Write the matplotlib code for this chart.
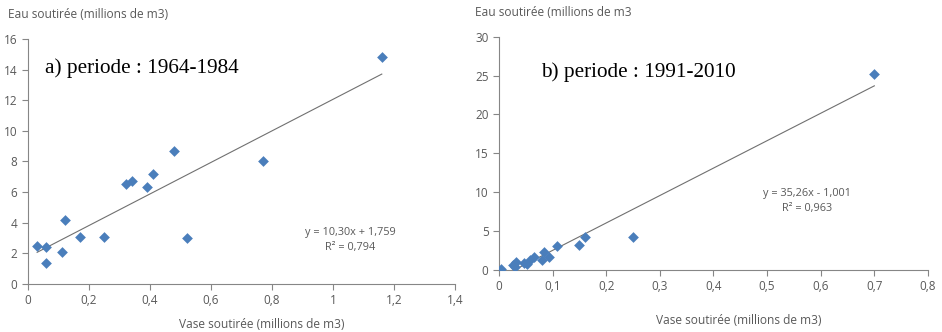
import matplotlib
matplotlib.use('Agg')
import matplotlib.pyplot as plt
import numpy as np
from matplotlib.ticker import FuncFormatter, MultipleLocator

# periode a) 1964-1984
vase_a = [0.03, 0.06, 0.06, 0.11, 0.12, 0.17, 0.25, 0.32, 0.34, 0.39, 0.41, 0.48, 0.52, 0.77, 1.16]
eau_a = [2.45, 2.4, 1.37, 2.1, 4.2, 3.1, 3.1, 6.5, 6.75, 6.35, 7.2, 8.7, 3.0, 8.0, 14.8]
slope_a, icpt_a = 10.30, 1.759

# periode b) 1991-2010
vase_b = [0.003, 0.026, 0.029, 0.032, 0.046, 0.053, 0.058, 0.066, 0.080, 0.084, 0.094,
          0.108, 0.150, 0.161, 0.250, 0.700]
eau_b = [0.1, 0.65, 0.45, 1.05, 0.95, 0.8, 1.3, 1.7, 1.3, 2.35, 1.7, 3.1, 3.2, 4.2, 4.3, 25.2]
slope_b, icpt_b = 35.26, -1.001

AXIS_GRAY = '#868686'
TXT_GRAY = '#595959'
BLUE = '#4A7EBB'
FONT = 'Open Sans'

comma = FuncFormatter(lambda v, p: ('%g' % round(v, 3)).replace('.', ','))


def style_axes(ax):
    for s in ['top', 'right']:
        ax.spines[s].set_visible(False)
    for s in ['left', 'bottom']:
        ax.spines[s].set_color(AXIS_GRAY)
        ax.spines[s].set_linewidth(0.8)
    ax.tick_params(colors=AXIS_GRAY, labelcolor=TXT_GRAY, labelsize=8.5, length=4, width=0.8)
    for lab in ax.get_xticklabels() + ax.get_yticklabels():
        lab.set_family(FONT)
    ax.xaxis.set_major_formatter(comma)
    ax.yaxis.set_major_formatter(comma)


fig = plt.figure(figsize=(9.42, 3.32), dpi=100)

# ---- panel a
ax1 = fig.add_axes([0.0297, 0.1446, 0.4533, 0.738])
ax1.scatter(vase_a, eau_a, marker='D', s=30, color=BLUE, zorder=3, linewidths=0)
xa = np.array([min(vase_a), max(vase_a)])
ax1.plot(xa, slope_a * xa + icpt_a, color='#707070', lw=0.8)
ax1.set_xlim(0, 1.4)
ax1.set_ylim(0, 16)
ax1.xaxis.set_major_locator(MultipleLocator(0.2))
ax1.yaxis.set_major_locator(MultipleLocator(2))
style_axes(ax1)
ax1.text(0.04, 0.88, 'a) periode : 1964-1984', transform=ax1.transAxes,
         family='Liberation Serif', fontsize=15.3, va='center', ha='left')
ax1.text(0.755, 0.18, 'y = 10,30x + 1,759\nR² = 0,794', transform=ax1.transAxes,
         family=FONT, fontsize=7.8, color=TXT_GRAY, ha='center', va='center', linespacing=1.5)

# ---- panel b
ax2 = fig.add_axes([0.5297, 0.1867, 0.4554, 0.7028])
ax2.scatter(vase_b, eau_b, marker='D', s=30, color=BLUE, zorder=3, linewidths=0)
xb = np.array([0.029, max(vase_b)])
ax2.plot(xb, slope_b * xb + icpt_b, color='#707070', lw=0.8)
ax2.set_xlim(0, 0.8)
ax2.set_ylim(0, 30)
ax2.xaxis.set_major_locator(MultipleLocator(0.1))
ax2.yaxis.set_major_locator(MultipleLocator(5))
style_axes(ax2)
ax2.text(0.098, 0.848, 'b) periode : 1991-2010', transform=ax2.transAxes,
         family='Liberation Serif', fontsize=15.3, va='center', ha='left')
ax2.text(0.718, 0.295, 'y = 35,26x - 1,001\nR² = 0,963', transform=ax2.transAxes,
         family=FONT, fontsize=7.8, color=TXT_GRAY, ha='center', va='center', linespacing=1.5)

# axis titles (Excel style placement)
fig.text(8 / 942, 1 - 15 / 332, 'Eau soutirée (millions de m3)', family=FONT, fontsize=8.6,
         color=TXT_GRAY, va='center', ha='left')
fig.text(475 / 942, 1 - 13 / 332, 'Eau soutirée (millions de m3', family=FONT, fontsize=8.6,
         color=TXT_GRAY, va='center', ha='left')
fig.text(262 / 942, 1 - 324 / 332, 'Vase soutirée (millions de m3)', family=FONT, fontsize=8.6,
         color=TXT_GRAY, va='center', ha='center')
fig.text(739 / 942, 1 - 320 / 332, 'Vase soutirée (millions de m3)', family=FONT, fontsize=8.6,
         color=TXT_GRAY, va='center', ha='center')

fig.savefig('out.png', dpi=100)
